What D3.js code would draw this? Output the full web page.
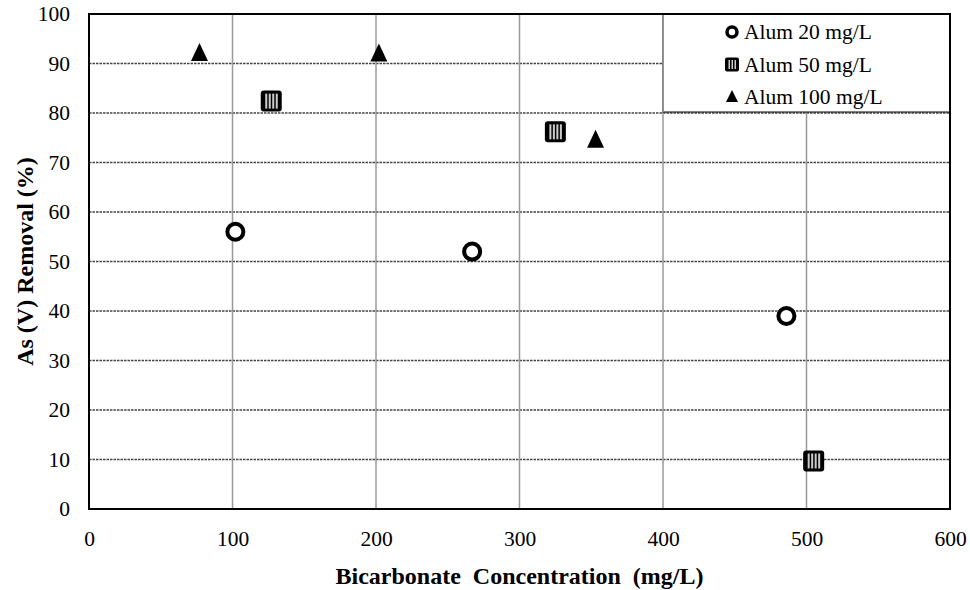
<!DOCTYPE html>
<html><head><meta charset="utf-8">
<script src="https://cdn.jsdelivr.net/npm/d3@7"></script>
<style>body{margin:0;background:#fff}svg{display:block}text{font-family:"Liberation Serif","Times New Roman",serif;fill:#000}</style>
</head><body><svg id="c" width="970" height="590"></svg>
<script>
const xTicks = [0,100,200,300,400,500,600];
const yTicks = [0,10,20,30,40,50,60,70,80,90,100];
const seriesNames = ["Alum 20 mg/L","Alum 50 mg/L","Alum 100 mg/L"];
const alum20 = [[102,56],[267,52],[486,39]];
const alum50 = [[127,82.4],[325,76.2],[505,9.7]];
const alum100 = [[77,92.1],[202,92],[353,74.6]];
const xTitle = "Bicarbonate  Concentration  (mg/L)";
const yTitle = "As (V) Removal (%)";

const svg = d3.select("#c");
const L=89,R=950,T=14,B=509;
const x = d3.scaleLinear().domain([0,600]).range([L,R]);
const y = d3.scaleLinear().domain([0,100]).range([B,T]);

// gridlines
svg.append("g").selectAll("line").data(yTicks.filter(d=>d>0&&d<100)).join("line")
  .attr("x1",L).attr("x2",R).attr("y1",d=>y(d)).attr("y2",d=>y(d))
  .attr("stroke","#444").attr("stroke-width",1.3).attr("stroke-dasharray","2.5,1");
svg.append("g").selectAll("line").data(xTicks.filter(d=>d>0&&d<600)).join("line")
  .attr("x1",d=>x(d)).attr("x2",d=>x(d)).attr("y1",T).attr("y2",B)
  .attr("stroke","#999").attr("stroke-width",1.5);

// legend box (covers grid)
const legX = x(400), legY = T, legW = R - x(400), legH = 98;
svg.append("rect").attr("x",legX).attr("y",legY).attr("width",legW).attr("height",legH)
  .attr("fill","#fff").attr("stroke","#000").attr("stroke-width",1);
svg.append("line").attr("x1",legX).attr("x2",legX).attr("y1",T).attr("y2",T+legH).attr("stroke","#999").attr("stroke-width",1.5);

// plot border
svg.append("rect").attr("x",L).attr("y",T).attr("width",R-L).attr("height",B-T)
  .attr("fill","none").attr("stroke","#000").attr("stroke-width",2);

// axes
const xa = svg.append("g").attr("transform",`translate(0,${B})`)
  .call(d3.axisBottom(x).tickValues(xTicks).tickSize(0).tickPadding(22));
const ya = svg.append("g").attr("transform",`translate(${L},0)`)
  .call(d3.axisLeft(y).tickValues(yTicks).tickSize(0).tickPadding(19));
[xa,ya].forEach(a=>{a.select(".domain").remove();a.selectAll("text").attr("font-size",21.5).attr("font-family","Liberation Serif");});

// titles
svg.append("text").attr("x",(L+R)/2).attr("y",584).attr("text-anchor","middle")
  .attr("font-size",24).attr("font-weight","bold").style("white-space","pre").text(xTitle);
svg.append("text").attr("transform",`translate(33,${(T+B)/2}) rotate(-90)`).attr("text-anchor","middle")
  .attr("font-size",24).attr("font-weight","bold").text(yTitle);

// markers
function circle(g){g.append("circle").attr("r",8).attr("fill","#fff").attr("stroke","#000").attr("stroke-width",4);}
function square(g){
  g.append("rect").attr("x",-10.5).attr("y",-10.5).attr("width",21).attr("height",21).attr("rx",3).attr("fill","#000");
  [-6,-2.5,1,4.5].forEach(o=>g.append("rect").attr("x",o).attr("y",-7.5).attr("width",2).attr("height",15).attr("fill","#ccc"));
}
function tri(g){g.append("path").attr("d","M0,-10L8.5,8L-8.5,8Z").attr("fill","#000");}
const drawers=[circle,square,tri];
[alum20,alum50,alum100].forEach((data,i)=>{
  svg.append("g").selectAll("g").data(data).join("g")
    .attr("transform",d=>`translate(${x(d[0])},${y(d[1])})`).each(function(){drawers[i](d3.select(this));});
});

// legend entries
const lg = svg.append("g").attr("transform","translate(732,0)");
seriesNames.forEach((n,i)=>{
  const cy = 32 + i*32.5;
  const g = lg.append("g").attr("transform",`translate(0,${cy})`);
  if(i===0){g.append("circle").attr("r",5).attr("fill","#fff").attr("stroke","#000").attr("stroke-width",3.5);}
  if(i===1){g.append("rect").attr("x",-7).attr("y",-7).attr("width",14).attr("height",14).attr("rx",2).attr("fill","#000");
    [-3.5,-0.5,2.5].forEach(o=>g.append("rect").attr("x",o).attr("y",-4.5).attr("width",1.5).attr("height",9).attr("fill","#ccc"));}
  if(i===2){g.append("path").attr("d","M0,-7L6,5L-6,5Z").attr("fill","#000");}
  g.append("text").attr("x",12).attr("y",7).attr("font-size",21.5).text(n);
});
</script></body></html>
